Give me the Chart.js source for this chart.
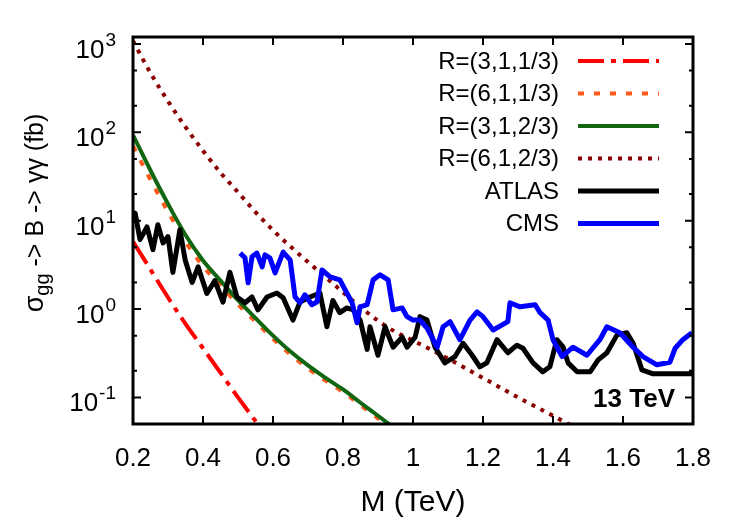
<!DOCTYPE html>
<html>
<head>
<meta charset="utf-8">
<script src="https://cdn.jsdelivr.net/npm/chart.js@4.4.1/dist/chart.umd.min.js"></script>
<style>
  html, body { margin: 0; padding: 0; background: #fff; }
</style>
</head>
<body>
<canvas id="sigmaChart" width="750" height="525"></canvas>
<script>
// theory curves, sigma(gg -> B -> gamma gamma) in fb vs M in TeV
const thM = [0.2, 0.25, 0.3, 0.35, 0.4, 0.45, 0.5, 0.55, 0.6, 0.65, 0.7, 0.75, 0.8, 0.85, 0.9, 0.95, 1.0, 1.1, 1.2, 1.3, 1.4, 1.5];
const r3_13 = [5.8, 2.8, 1.35, 0.68, 0.36, 0.19, 0.10, 0.054, 0.03];
const r6_13 = [70, 29, 12.6, 5.8, 3.05, 1.85, 1.13, 0.72, 0.46, 0.305, 0.213, 0.155, 0.115, 0.082, 0.058, 0.042];
const r3_23 = [93, 37, 15.5, 6.9, 3.55, 2.1, 1.26, 0.79, 0.50, 0.33, 0.23, 0.166, 0.123, 0.087, 0.062, 0.044];
const r6_23 = [1080, 470, 225, 115, 62, 35, 21, 12.5, 7.8, 5.1, 3.4, 2.3, 1.55, 1.05, 0.74, 0.55, 0.44, 0.275, 0.166, 0.10, 0.062, 0.038];

// observed limits
const atlasM = [0.200, 0.206, 0.220, 0.240, 0.257, 0.271, 0.286, 0.300, 0.314, 0.334, 0.349, 0.369, 0.386, 0.411, 0.434, 0.457, 0.477, 0.497,
  0.520, 0.540, 0.557, 0.583, 0.611, 0.629, 0.657, 0.677, 0.706, 0.734, 0.754, 0.771, 0.791, 0.811, 0.829, 0.849, 0.869, 0.877, 0.900,
  0.920, 0.943, 0.969, 0.983, 1.006, 1.020, 1.040, 1.063, 1.091, 1.120, 1.143, 1.169, 1.191, 1.211, 1.240, 1.271, 1.297, 1.314, 1.343,
  1.371, 1.391, 1.411, 1.429, 1.443, 1.469, 1.506, 1.529, 1.554, 1.583, 1.611, 1.629, 1.654, 1.686, 1.800];
const atlasS = [9.5, 12.2, 6.1, 8.5, 4.7, 9.0, 5.6, 6.6, 2.6, 7.9, 3.6, 2.0, 3.0, 1.5, 2.1, 1.2, 2.6, 1.37,
  1.18, 1.37, 0.98, 1.37, 1.52, 1.34, 0.75, 1.2, 1.37, 1.52, 0.63, 1.25, 0.91, 1.03, 0.98, 0.75, 0.35, 0.63, 0.30,
  0.63, 0.37, 0.48, 0.37, 0.48, 0.82, 0.75, 0.37, 0.246, 0.29, 0.41, 0.30, 0.222, 0.246, 0.45, 0.32, 0.39, 0.36, 0.246,
  0.195, 0.222, 0.45, 0.37, 0.246, 0.195, 0.195, 0.266, 0.32, 0.51, 0.54, 0.41, 0.205, 0.185, 0.185];

const cmsM = [0.506, 0.520, 0.529, 0.540, 0.554, 0.569, 0.577, 0.591, 0.606, 0.629, 0.649, 0.663, 0.677, 0.691, 0.711, 0.726, 0.740,
  0.763, 0.791, 0.811, 0.826, 0.840, 0.849, 0.869, 0.886, 0.906, 0.929, 0.943, 0.969, 0.983, 1.000, 1.020, 1.040, 1.069, 1.086,
  1.106, 1.134, 1.163, 1.183, 1.200, 1.229, 1.271, 1.277, 1.306, 1.349, 1.363, 1.386, 1.400, 1.426, 1.457, 1.497, 1.534, 1.554,
  1.591, 1.629, 1.657, 1.697, 1.734, 1.749, 1.771, 1.797];
const cmsS = [4.3, 3.8, 1.98, 3.9, 4.3, 3.0, 4.1, 3.8, 2.57, 4.4, 3.6, 1.37, 1.18, 1.45, 1.12, 1.21, 2.77,
  2.31, 2.14, 1.52, 1.18, 0.70, 1.06, 1.12, 2.14, 2.44, 2.14, 0.98, 1.03, 0.82, 0.75, 0.75, 0.61, 0.37, 0.63,
  0.72, 0.45, 0.75, 0.93, 0.82, 0.58, 0.72, 1.18, 1.06, 1.12, 0.91, 0.75, 0.45, 0.29, 0.37, 0.30, 0.45, 0.63,
  0.54, 0.37, 0.29, 0.234, 0.25, 0.36, 0.45, 0.54];

const xTicks = [0.2, 0.4, 0.6, 0.8, 1.0, 1.2, 1.4, 1.6, 1.8];
const yMajor = [0.1, 1, 10, 100, 1000];
const yMinor = [0.2, 0.5, 2, 5, 20, 50, 200, 500];
const yExp = ['-1', '0', '1', '2', '3'];

const FONT = "'Liberation Sans', Arial, Helvetica, sans-serif";

const pts = (ms, vs) => vs.map((v, i) => ({ x: ms[i], y: v }));

const lineSet = (label, data, color, width, dash, order, smooth) => ({
  label,
  data,
  borderColor: color,
  backgroundColor: color,
  borderWidth: width,
  borderDash: dash,
  borderCapStyle: 'butt',
  borderJoinStyle: 'round',
  pointRadius: 0,
  fill: false,
  order,
  cubicInterpolationMode: smooth ? 'monotone' : 'default',
  tension: 0
});

const axisDecor = {
  id: 'axisDecor',
  afterDatasetsDraw(chart) {
    const { ctx, chartArea: a, scales: { x, y } } = chart;
    ctx.save();
    ctx.strokeStyle = '#000';
    ctx.lineWidth = 2;
    ctx.beginPath();
    xTicks.forEach(v => {
      const px = x.getPixelForValue(v);
      ctx.moveTo(px, a.bottom); ctx.lineTo(px, a.bottom - 8);
      ctx.moveTo(px, a.top); ctx.lineTo(px, a.top + 8);
    });
    const yt = (v, len) => {
      const py = y.getPixelForValue(v);
      ctx.moveTo(a.left, py); ctx.lineTo(a.left + len, py);
      ctx.moveTo(a.right, py); ctx.lineTo(a.right - len, py);
    };
    yMajor.forEach(v => yt(v, 8));
    yMinor.forEach(v => yt(v, 4));
    ctx.stroke();
    ctx.lineWidth = 3;
    ctx.strokeRect(a.left, a.top, a.width, a.height);

    // y tick labels 10^n
    ctx.fillStyle = '#000';
    ctx.textBaseline = 'alphabetic';
    yMajor.forEach((v, i) => {
      const py = y.getPixelForValue(v);
      ctx.font = `19px ${FONT}`;
      const w = ctx.measureText(yExp[i]).width;
      ctx.textAlign = 'left';
      ctx.fillText(yExp[i], 116 - w, py + 2);
      ctx.font = `26px ${FONT}`;
      ctx.textAlign = 'right';
      ctx.fillText('10', 116 - w - 1, py + 14);
    });

    // y axis title with subscript
    ctx.translate(43, 213);
    ctx.rotate(-Math.PI / 2);
    const parts = [['\u03C3', 27, 0], ['gg', 20, 6], [' -> B -> \u03B3\u03B3 (fb)', 25, 0]];
    let total = 0;
    parts.forEach(p => { ctx.font = `${p[1]}px ${FONT}`; total += ctx.measureText(p[0]).width; });
    let cx = -total / 2;
    ctx.textAlign = 'left';
    parts.forEach(p => {
      ctx.font = `${p[1]}px ${FONT}`;
      ctx.fillText(p[0], cx, p[2]);
      cx += ctx.measureText(p[0]).width;
    });
    ctx.restore();
  }
};

const keyBox = {
  id: 'keyBox',
  afterDraw(chart) {
    const { ctx } = chart;
    ctx.save();
    ctx.font = `24px ${FONT}`;
    ctx.textAlign = 'right';
    ctx.textBaseline = 'middle';
    chart.data.datasets.forEach((ds, i) => {
      const ky = 61 + i * 32.5;
      ctx.fillStyle = '#000';
      ctx.fillText(ds.label, 559, ky + 1);
      ctx.strokeStyle = ds.borderColor;
      ctx.lineWidth = ds.borderWidth;
      ctx.setLineDash(ds.borderDash);
      ctx.beginPath();
      ctx.moveTo(578, ky);
      ctx.lineTo(659, ky);
      ctx.stroke();
    });
    ctx.setLineDash([]);
    ctx.font = `bold 26px ${FONT}`;
    ctx.textBaseline = 'alphabetic';
    ctx.fillText('13 TeV', 675, 407);
    ctx.restore();
  }
};

new Chart(document.getElementById('sigmaChart'), {
  type: 'line',
  data: {
    datasets: [
      lineSet('R=(3,1,1/3)', pts(thM, r3_13), '#ff0000', 4, [26, 7, 5, 7], 5, true),
      lineSet('R=(6,1,1/3)', pts(thM, r6_13), '#ff5a1a', 4, [6, 10], 4, true),
      lineSet('R=(3,1,2/3)', pts(thM, r3_23), '#116611', 4, [], 3, true),
      lineSet('R=(6,1,2/3)', pts(thM, r6_23), '#8b0000', 4, [4, 6], 2, true),
      lineSet('ATLAS', pts(atlasM, atlasS), '#000000', 5, [], 1, false),
      lineSet('CMS', pts(cmsM, cmsS), '#0000ff', 5, [], 0, false)
    ]
  },
  options: {
    responsive: false,
    animation: false,
    devicePixelRatio: 1,
    layout: { padding: { left: 0, top: 37, right: 57, bottom: 0 } },
    plugins: { legend: { display: false }, tooltip: { enabled: false } },
    scales: {
      x: {
        type: 'linear',
        min: 0.2,
        max: 1.8,
        afterBuildTicks: s => { s.ticks = xTicks.map(v => ({ value: v })); },
        afterFit: s => { s.height = 101; },
        grid: { display: false, drawTicks: false },
        border: { display: false },
        ticks: {
          font: { family: FONT, size: 26 },
          color: '#000',
          padding: 19,
          maxRotation: 0,
          autoSkip: false,
          callback: v => String(+v.toFixed(1))
        },
        title: {
          display: true,
          text: 'M (TeV)',
          color: '#000',
          font: { family: FONT, size: 30 },
          padding: { top: 0, bottom: 4 }
        }
      },
      y: {
        type: 'logarithmic',
        min: 0.05,
        max: 1200,
        afterBuildTicks: s => { s.ticks = yMajor.map(v => ({ value: v, major: true })); },
        afterFit: s => { s.width = 133; },
        grid: { display: false, drawTicks: false },
        border: { display: false },
        ticks: { display: false }
      }
    }
  },
  plugins: [axisDecor, keyBox]
});
</script>
</body>
</html>
